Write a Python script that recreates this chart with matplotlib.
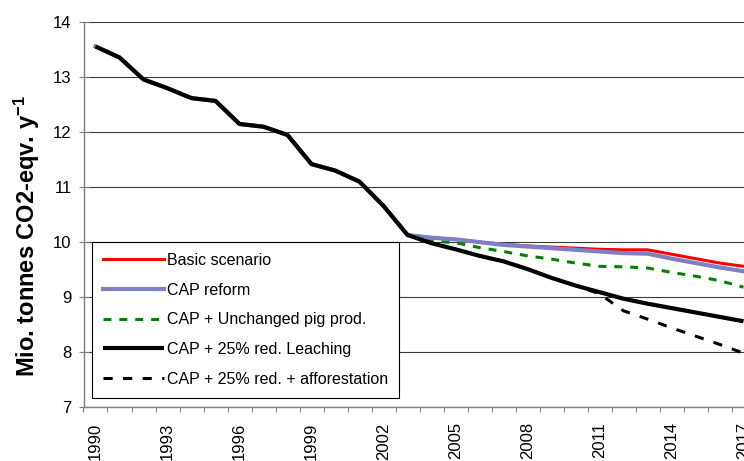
import matplotlib
matplotlib.use("Agg")
import matplotlib.pyplot as plt
from matplotlib.ticker import FixedLocator, FuncFormatter

plt.rcParams["font.family"] = ["Liberation Sans", "DejaVu Sans"]
plt.rcParams["mathtext.fontset"] = "custom"
plt.rcParams["mathtext.rm"] = "Liberation Sans"
plt.rcParams["mathtext.bf"] = "Liberation Sans:bold"
plt.rcParams["mathtext.default"] = "bf"

# Years 1990-2017
years = list(range(1990, 2018))

# Common emission history 1990-2003 (Mio. tonnes CO2-eqv. per year)
history = [13.56, 13.36, 12.96, 12.80, 12.62, 12.57, 12.15, 12.10, 11.95,
           11.42, 11.30, 11.10, 10.66, 10.13]

# Scenario projections 2004-2017
basic_proj = [10.08, 10.05, 10.00, 9.96, 9.93, 9.91, 9.89, 9.87, 9.86, 9.86,
              9.78, 9.70, 9.62, 9.56]
cap_proj = [10.08, 10.05, 10.00, 9.95, 9.92, 9.89, 9.86, 9.83, 9.80, 9.79,
            9.70, 9.62, 9.54, 9.47]
pig_proj = [10.02, 9.99, 9.90, 9.83, 9.75, 9.69, 9.62, 9.56, 9.55, 9.53,
            9.45, 9.38, 9.30, 9.18]
leach_proj = [9.98, 9.87, 9.75, 9.65, 9.51, 9.35, 9.21, 9.09, 8.97, 8.88,
              8.80, 8.72, 8.64, 8.56]
affor_proj = [9.98, 9.87, 9.75, 9.65, 9.51, 9.35, 9.21, 9.06, 8.75, 8.60,
              8.44, 8.29, 8.14, 7.98]

labels = ["Basic scenario", "CAP reform", "CAP + Unchanged pig prod.",
          "CAP + 25% red. Leaching", "CAP + 25% red. + afforestation"]

fig = plt.figure(figsize=(7.44, 4.61), dpi=100)
W, H = 744, 461
x0 = 83.5
ax = fig.add_axes([x0 / W, 1 - 407 / H, 1 - x0 / W, (407 - 22.3) / H])

# Category axis: one year per 24-pixel slot
ax.set_xlim(1989.5, 1989.5 + (W - x0) / 24.0)
ax.set_ylim(7, 14)

ax.plot(years, history + affor_proj, color="black", lw=2.2,
        dashes=(3, 3.4), label=labels[4], zorder=3)
ax.plot(years, history + pig_proj, color="#008000", lw=2.2,
        dashes=(2.6, 2.6), label=labels[2], zorder=3)
ax.plot(years, history + basic_proj, color="#ff0000", lw=2.2,
        label=labels[0], zorder=4)
ax.plot(years, history + cap_proj, color="#7f7fc4", lw=3.0,
        label=labels[1], zorder=5)
ax.plot(years, history + leach_proj, color="black", lw=3.0,
        label=labels[3], zorder=6, solid_capstyle="butt")

# Horizontal gridlines
ax.set_yticks(range(7, 15))
ax.yaxis.grid(True, color="#3a3a3a", lw=0.8)
ax.set_axisbelow(True)

for s in ["top", "right"]:
    ax.spines[s].set_visible(False)
ax.spines["left"].set_color("#808080")
ax.spines["bottom"].set_color("#808080")
ax.spines["left"].set_linewidth(1.0)
ax.spines["bottom"].set_linewidth(1.0)

ax.tick_params(axis="y", direction="inout", length=7, width=0.8,
               color="#808080", labelsize=12, pad=5)

# Labels every third year, tick marks between every category
label_years = [y for y in years if (y - 1990) % 3 == 0]
ax.xaxis.set_major_locator(FixedLocator(label_years))
ax.xaxis.set_major_formatter(FuncFormatter(lambda v, p: f"{int(round(v))}"))
ax.xaxis.set_minor_locator(FixedLocator([y - 0.5 for y in years] + [years[-1] + 0.5]))
ax.tick_params(axis="x", which="major", length=0, labelsize=12,
               labelrotation=90, pad=11)
ax.tick_params(axis="x", which="minor", direction="out", length=3.5,
               width=0.8, color="#808080")

fig.text(27 / W, 1 - 236 / H, r"Mio. tonnes CO2-eqv. y$^{-1}$",
         rotation=90, ha="center", va="center", fontsize=17,
         fontweight="bold")

handles, labs = ax.get_legend_handles_labels()
order = [labs.index(l) for l in labels]
leg = ax.legend([handles[i] for i in order], [labs[i] for i in order],
                loc="upper left", bbox_to_anchor=(92 / W, 1 - 242 / H),
                bbox_transform=fig.transFigure, borderaxespad=0,
                fontsize=11.5, frameon=True, fancybox=False,
                edgecolor="black", framealpha=1.0, handlelength=3.8,
                handletextpad=0.2, labelspacing=0.92, borderpad=0.68)
leg.get_frame().set_linewidth(0.8)
leg.set_zorder(10)

fig.savefig("out.png", dpi=100)
